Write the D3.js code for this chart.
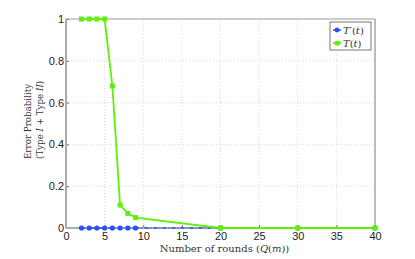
<!DOCTYPE html>
<html>
<head>
<meta charset="utf-8">
<script src="https://cdn.jsdelivr.net/npm/d3@7"></script>
<style>
  body { margin: 0; background: #fff; }
  .tick text { font-family: "Liberation Sans", Arial, sans-serif; font-size: 11px; fill: #222; }
  .lbl { font-family: "DejaVu Serif", "Liberation Serif", serif; font-size: 10px; fill: #333; }
  .ylbl { font-family: "DejaVu Serif", "Liberation Serif", serif; font-size: 8.7px; fill: #333; }
</style>
</head>
<body>
<div id="chart"></div>
<script>
// Data
const roundsT = [2, 3, 4, 5, 6, 7, 8, 9, 20, 30, 40];
const errT = [1, 1, 1, 1, 0.68, 0.11, 0.07, 0.05, 0, 0, 0];
const roundsTp = [2, 3, 4, 5, 6, 7, 8, 9, 20, 30, 40];
const errTp = [0, 0, 0, 0, 0, 0, 0, 0, 0, 0, 0];
const xTicks = [0, 5, 10, 15, 20, 25, 30, 35, 40];
const yTicks = [0, 0.2, 0.4, 0.6, 0.8, 1];

const width = 415, height = 259;
const margin = [19, 31, 66, 40]; // top, bottom, left, right

const svg = d3.select("#chart").append("svg")
	.attr("width", width).attr("height", height);

const chartW = width - margin[2] - margin[3],
	chartH = height - margin[0] - margin[1];

const scaleX = d3.scaleLinear([0, 40], [0, chartW]);
const scaleY = d3.scaleLinear([0, 1], [chartH, 0]);

const chart = svg.append("g")
	.attr("transform", `translate(${margin[2]}, ${margin[0]})`);

// Grid
chart.append("g").selectAll("line.gx")
	.data(xTicks.slice(1, -1)).join("line")
	.attr("x1", d => scaleX(d)).attr("x2", d => scaleX(d))
	.attr("y1", 0).attr("y2", chartH)
	.attr("stroke", "#d8d8d8").attr("stroke-dasharray", "1,2");
chart.append("g").selectAll("line.gy")
	.data(yTicks.slice(1, -1)).join("line")
	.attr("x1", 0).attr("x2", chartW)
	.attr("y1", d => scaleY(d)).attr("y2", d => scaleY(d))
	.attr("stroke", "#d8d8d8").attr("stroke-dasharray", "1,2");

// Axes
const axisX = chart.append("g").attr("transform", `translate(0, ${chartH})`)
	.call(d3.axisBottom(scaleX).tickValues(xTicks).tickSize(-3).tickPadding(4));
const axisY = chart.append("g")
	.call(d3.axisLeft(scaleY).tickValues(yTicks).tickSize(-3).tickPadding(2)
		.tickFormat(d => d === 0 || d === 1 ? d : d3.format(".1f")(d)));
[axisX, axisY].forEach(a => {
	a.select(".domain").remove();
	a.selectAll(".tick line").attr("stroke", "#666");
});

// Box
chart.append("rect").attr("width", chartW).attr("height", chartH)
	.attr("fill", "none").attr("stroke", "#999").attr("stroke-width", 1);
chart.append("line").attr("x1", 0).attr("x2", 0).attr("y1", 0).attr("y2", chartH)
	.attr("stroke", "#aaa").attr("stroke-width", 2);
chart.append("line").attr("x1", 0).attr("x2", chartW).attr("y1", chartH).attr("y2", chartH)
	.attr("stroke", "#aaa").attr("stroke-width", 2);
chart.append("line").attr("x1", chartW).attr("x2", chartW).attr("y1", 0).attr("y2", chartH)
	.attr("stroke", "#bbb").attr("stroke-width", 2);

const line = d3.line().x(d => scaleX(d[0])).y(d => scaleY(d[1]));

// T'(t) blue, dash-dot
const dataTp = roundsTp.map((r, i) => [r, errTp[i]]);
chart.append("path").datum(dataTp).attr("d", line)
	.attr("fill", "none").attr("stroke", "#2a4cff").attr("stroke-width", 1.5)
	.attr("stroke-dasharray", "4,2,1,2");
chart.selectAll("circle.tp").data(dataTp).join("circle")
	.attr("cx", d => scaleX(d[0])).attr("cy", d => scaleY(d[1])).attr("r", 2.6)
	.attr("fill", "#2a4cff");

// T(t) green
const dataT = roundsT.map((r, i) => [r, errT[i]]);
chart.append("path").datum(dataT).attr("d", line)
	.attr("fill", "none").attr("stroke", "#5ef00a").attr("stroke-width", 1.8);
chart.selectAll("rect.t").data(dataT).join("rect")
	.attr("x", d => scaleX(d[0]) - 2.5).attr("y", d => scaleY(d[1]) - 2.5)
	.attr("width", 5).attr("height", 5).attr("fill", "#5ef00a");

// Legend
const lg = chart.append("g").attr("transform", `translate(${chartW - 45}, 3)`);
lg.append("rect").attr("width", 41).attr("height", 28)
	.attr("fill", "#fff").attr("stroke", "#777");
lg.append("line").attr("x1", 3).attr("x2", 11).attr("y1", 8).attr("y2", 8)
	.attr("stroke", "#2a4cff").attr("stroke-width", 1.5);
lg.append("circle").attr("cx", 7).attr("cy", 8).attr("r", 2.4).attr("fill", "#2a4cff");
lg.append("line").attr("x1", 3).attr("x2", 11).attr("y1", 21).attr("y2", 21)
	.attr("stroke", "#5ef00a").attr("stroke-width", 1.8);
lg.append("rect").attr("x", 5).attr("y", 19).attr("width", 4.5).attr("height", 4.5).attr("fill", "#5ef00a");
const t1 = lg.append("text").attr("class", "lbl").attr("x", 13).attr("y", 12);
t1.append("tspan").attr("font-style", "italic").text("T′");
t1.append("tspan").text("(");
t1.append("tspan").attr("font-style", "italic").text("t");
t1.append("tspan").text(")");
const t2 = lg.append("text").attr("class", "lbl").attr("x", 13).attr("y", 25);
t2.append("tspan").attr("font-style", "italic").text("T");
t2.append("tspan").text("(");
t2.append("tspan").attr("font-style", "italic").text("t");
t2.append("tspan").text(")");

// Axis labels
const xl = svg.append("text").attr("class", "lbl").attr("text-anchor", "middle")
	.attr("x", margin[2] + chartW / 2 + 4).attr("y", height - 7);
xl.append("tspan").text("Number of rounds (");
xl.append("tspan").attr("font-style", "italic").text("Q");
xl.append("tspan").text("(");
xl.append("tspan").attr("font-style", "italic").text("m");
xl.append("tspan").text("))");

const yl = svg.append("g").attr("transform", `translate(31, 159) rotate(-90)`);
yl.append("text").attr("class", "ylbl").attr("text-anchor", "start").attr("y", 0)
	.text("Error Probability");
const y2 = yl.append("text").attr("class", "ylbl").attr("text-anchor", "start").attr("y", 12);
y2.append("tspan").text("(Type ");
y2.append("tspan").attr("font-style", "italic").text("I");
y2.append("tspan").text(" + Type ");
y2.append("tspan").attr("font-style", "italic").text("II");
y2.append("tspan").text(")");
</script>
</body>
</html>
